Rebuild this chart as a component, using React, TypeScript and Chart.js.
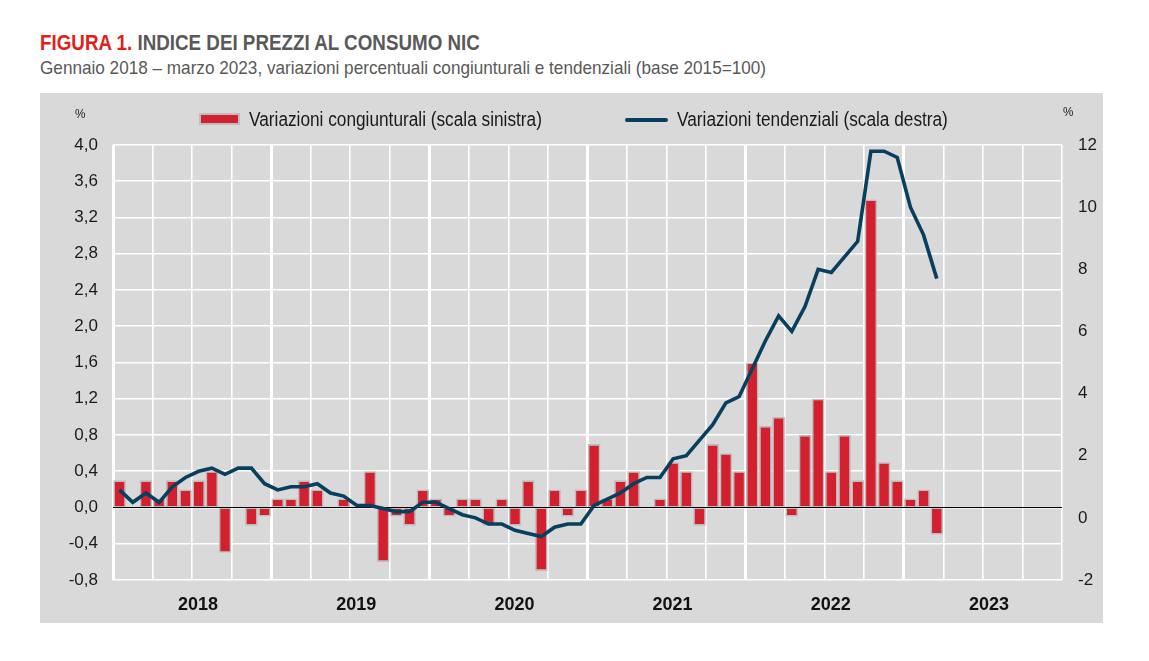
import React, { useEffect, useRef } from "react";
import { Chart, registerables } from "chart.js";

Chart.register(...registerables);

const years = ["2018", "2019", "2020", "2021", "2022", "2023"];

const congiunturali = [
  0.3, 0.0, 0.3, 0.1, 0.3, 0.2, 0.3, 0.4, -0.5, 0.0, -0.2, -0.1,
  0.1, 0.1, 0.3, 0.2, 0.0, 0.1, 0.0, 0.4, -0.6, -0.1, -0.2, 0.2,
  0.1, -0.1, 0.1, 0.1, -0.2, 0.1, -0.2, 0.3, -0.7, 0.2, -0.1, 0.2,
  0.7, 0.1, 0.3, 0.4, 0.0, 0.1, 0.5, 0.4, -0.2, 0.7, 0.6, 0.4,
  1.6, 0.9, 1.0, -0.1, 0.8, 1.2, 0.4, 0.8, 0.3, 3.4, 0.5, 0.3,
  0.1, 0.2, -0.3,
];

const tendenziali = [
  0.9, 0.5, 0.8, 0.5, 1.0, 1.3, 1.5, 1.6, 1.4, 1.6, 1.6, 1.1,
  0.9, 1.0, 1.0, 1.1, 0.8, 0.7, 0.4, 0.4, 0.3, 0.2, 0.2, 0.5,
  0.5, 0.3, 0.1, 0.0, -0.2, -0.2, -0.4, -0.5, -0.6, -0.3, -0.2, -0.2,
  0.4, 0.6, 0.8, 1.1, 1.3, 1.3, 1.9, 2.0, 2.5, 3.0, 3.7, 3.9,
  4.8, 5.7, 6.5, 6.0, 6.8, 8.0, 7.9, 8.4, 8.9, 11.8, 11.8, 11.6,
  10.0, 9.1, 7.7,
];

const leftTicks = { min: -0.8, max: 4.0, step: 0.4 };
const rightTicks = { min: -2, max: 12, step: 2 };

const FONT = "'Liberation Sans Narrow', 'Arial Narrow', 'Liberation Sans', Arial, sans-serif";
const RED = "#d2202f";
const NAVY = "#073f5e";
const GRAY_BG = "#d9d9d9";

const zeroLinePlugin = {
  id: "zeroLine",
  afterDatasetDraw(chart: any, args: any) {
    if (args.index !== 1) return;
    const y = chart.scales.y.getPixelForValue(0);
    const { left, right } = chart.chartArea;
    const ctx = chart.ctx;
    ctx.save();
    ctx.strokeStyle = "#000";
    ctx.lineWidth = 1.2;
    ctx.beginPath();
    ctx.moveTo(left, y);
    ctx.lineTo(right, y);
    ctx.stroke();
    ctx.restore();
  },
};

function ChartCanvas() {
  const ref = useRef<HTMLCanvasElement | null>(null);
  useEffect(() => {
    if (!ref.current) return;
    const monthsPerYear = 12;
    const totalMonths = years.length * monthsPerYear;
    const chart = new Chart(ref.current, {
      type: "bar",
      data: {
        datasets: [
          {
            type: "line" as any,
            label: "Variazioni tendenziali (scala destra)",
            data: tendenziali.map((v, i) => ({ x: i + 0.5, y: v })),
            yAxisID: "y2",
            borderColor: NAVY,
            borderWidth: 3.6,
            pointRadius: 0,
            tension: 0,
            order: 0,
          } as any,
          {
            type: "bar" as any,
            label: "Variazioni congiunturali (scala sinistra)",
            data: congiunturali.map((v, i) => ({ x: i + 0.5, y: v })),
            yAxisID: "y",
            backgroundColor: RED,
            borderColor: "#bdbdbd",
            borderWidth: 1.6,
            borderSkipped: false,
            categoryPercentage: 1,
            barPercentage: 0.96,
            order: 1,
          } as any,
        ],
      },
      options: {
        animation: false,
        responsive: false,
        maintainAspectRatio: false,
        layout: { padding: { top: 52, left: 0, right: 0, bottom: 0 } },
        plugins: {
          legend: { display: false },
          title: { display: false },
          tooltip: { enabled: false },
        },
        scales: {
          x: {
            type: "linear",
            offset: false,
            min: 0,
            max: totalMonths,
            border: { display: false },
            grid: {
              offset: false,
              color: "#ffffff",
              drawTicks: false,
              lineWidth: (c: any) => {
                const v = c.tick ? c.tick.value : 0;
                return v % 12 === 0 && v !== totalMonths ? 3 : 1.6;
              },
            },
            ticks: {
              stepSize: 3,
              autoSkip: false,
              maxRotation: 0,
              padding: 14,
              labelOffset: 6,
              color: "#111",
              font: { family: FONT, size: 18, weight: "bold" },
              callback: (v: any) => {
                const n = Number(v);
                if (n % 12 === 6) return years[(n - 6) / 12];
                return "";
              },
            },
            afterFit: (s: any) => {
              s.height = 43;
            },
          },
          y: {
            type: "linear",
            position: "left",
            min: leftTicks.min,
            max: leftTicks.max,
            border: { display: false },
            grid: { color: "#ffffff", lineWidth: 1.6, drawTicks: false },
            ticks: {
              stepSize: leftTicks.step,
              padding: 15,
              color: "#1a1a1a",
              font: { family: FONT, size: 17 },
              callback: (v: any) => {
                const n = Math.abs(Number(v)) < 1e-9 ? 0 : Number(v);
                return n.toFixed(1).replace(".", ",");
              },
            },
            afterFit: (s: any) => {
              s.width = 73;
            },
          },
          y2: {
            type: "linear",
            position: "right",
            min: rightTicks.min,
            max: rightTicks.max,
            border: { display: false },
            grid: { display: false, drawTicks: false },
            ticks: {
              stepSize: rightTicks.step,
              padding: 16,
              color: "#1a1a1a",
              font: { family: FONT, size: 17 },
              callback: (v: any) => String(v),
            },
            afterFit: (s: any) => {
              s.width = 41;
            },
          },
        },
      } as any,
      plugins: [zeroLinePlugin],
    });
    return () => chart.destroy();
  }, []);
  return (
    <canvas
      ref={ref}
      width={1063}
      height={530}
      style={{ position: "absolute", left: 0, top: 0, width: 1063, height: 530 }}
    />
  );
}

export default function App() {
  const abs: React.CSSProperties = {
    position: "absolute",
    whiteSpace: "nowrap",
    fontFamily: FONT,
    transformOrigin: "0 0",
  };
  return (
    <div style={{ position: "absolute", left: 0, top: 0, width: 1149, height: 661, background: "#fff", overflow: "hidden" }}>
      <div style={{ ...abs, left: 40, top: 32, fontSize: 22, lineHeight: "22px", fontWeight: "bold", color: "#595959", transform: "scaleX(0.854)" }}>
        <span style={{ color: "#e3201b" }}>FIGURA 1.</span> INDICE DEI PREZZI AL CONSUMO NIC
      </div>
      <div style={{ ...abs, left: 40, top: 58.5, fontSize: 18.5, lineHeight: "18.5px", color: "#595959", transform: "scaleX(0.927)" }}>
        Gennaio 2018 – marzo 2023, variazioni percentuali congiunturali e tendenziali (base 2015=100)
      </div>
      <div style={{ position: "absolute", left: 40, top: 93, width: 1063, height: 530, background: GRAY_BG }}>
        <ChartCanvas />
        <div style={{ ...abs, left: 35, top: 14, fontSize: 13, lineHeight: "13px", color: "#1a1a1a", transform: "scaleX(0.9)" }}>%</div>
        <div style={{ ...abs, left: 1023, top: 12, fontSize: 13, lineHeight: "13px", color: "#1a1a1a", transform: "scaleX(0.9)" }}>%</div>
        <div style={{ position: "absolute", left: 159, top: 20, width: 37, height: 8, background: RED, border: "2px solid #bdbdbd" }} />
        <div style={{ ...abs, left: 209, top: 16, fontSize: 20, lineHeight: "20px", color: "#1a1a1a", transform: "scaleX(0.862)" }}>
          Variazioni congiunturali (scala sinistra)
        </div>
        <div style={{ position: "absolute", left: 585, top: 24.5, width: 43, height: 4, background: NAVY, borderRadius: 2 }} />
        <div style={{ ...abs, left: 637, top: 15.5, fontSize: 20, lineHeight: "20px", color: "#1a1a1a", transform: "scaleX(0.862)" }}>
          Variazioni tendenziali (scala destra)
        </div>
      </div>
    </div>
  );
}
